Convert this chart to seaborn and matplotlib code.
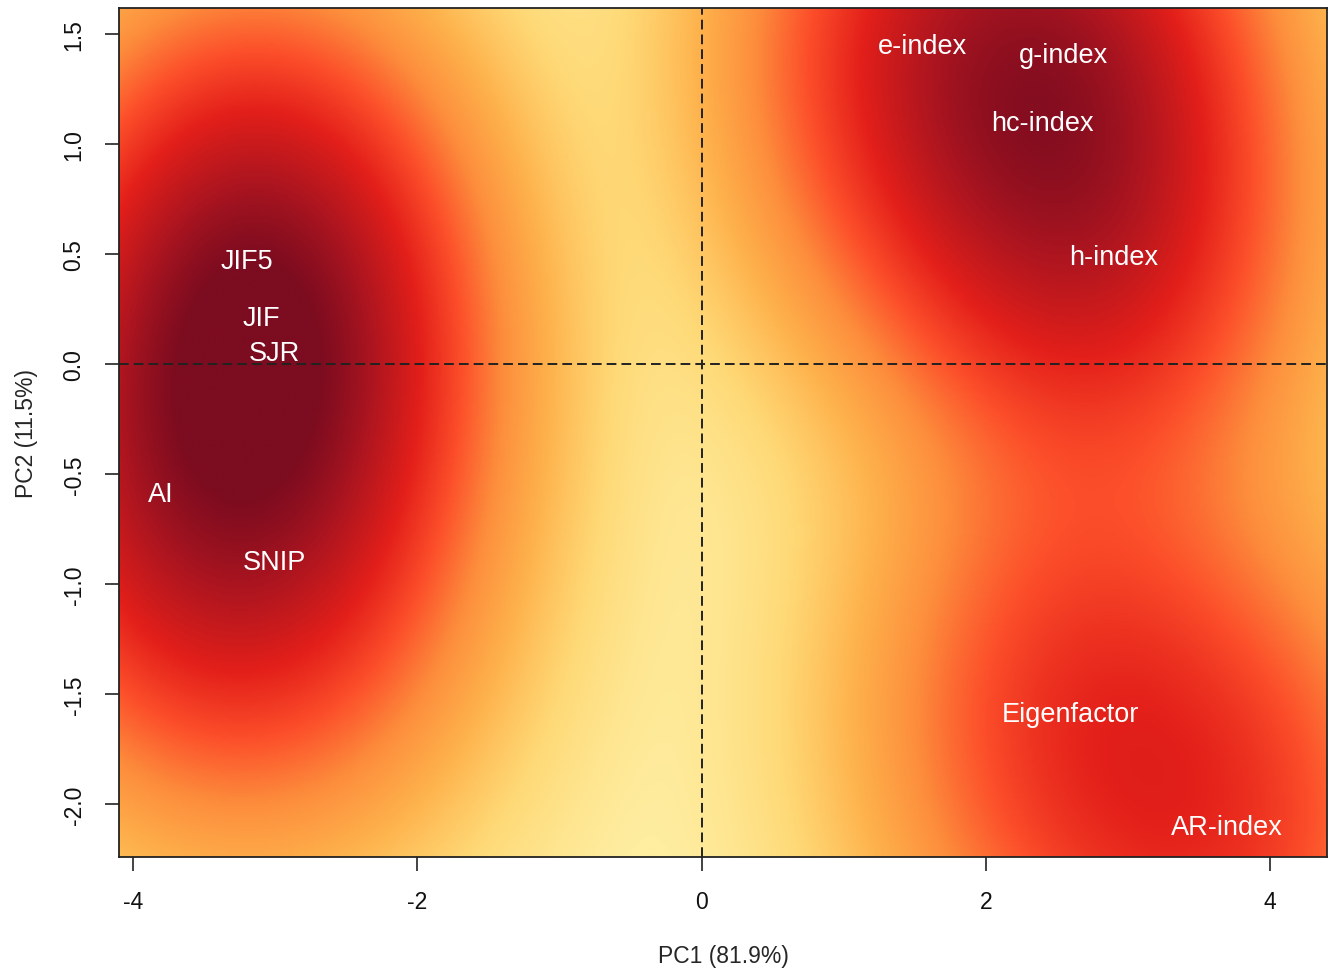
import numpy as np
import pandas as pd
import matplotlib
matplotlib.use("Agg")
import matplotlib.pyplot as plt
from matplotlib.colors import LinearSegmentedColormap
import seaborn as sns

# ---- data: PCA loadings (label positions) ----
labels = ["e-index", "g-index", "hc-index", "h-index", "JIF5", "JIF", "SJR",
          "AI", "SNIP", "Eigenfactor", "AR-index"]
pc1 = [1.555, 2.547, 2.40, 2.90, -3.20, -3.10, -3.005, -3.807, -3.005, 2.597, 3.695]
pc2 = [1.445, 1.405, 1.095, 0.486, 0.468, 0.209, 0.050, -0.591, -0.900, -1.590, -2.105]
xlab = "PC1 (81.9%)"
ylab = "PC2 (11.5%)"
xticks = [-4, -2, 0, 2, 4]
yticks = [-2.0, -1.5, -1.0, -0.5, 0.0, 0.5, 1.0, 1.5]
palette = ["#FFEDA0", "#FED976", "#FEB24C", "#FD8D3C", "#FC4E2A",
           "#E31F1A", "#B2161F", "#7C0C20"]

df = pd.DataFrame({"label": labels, "PC1": pc1, "PC2": pc2})

sns.set_theme(style="ticks")
plt.rcParams["font.family"] = ["Liberation Sans", "DejaVu Sans"]

fig = plt.figure(figsize=(13.32, 9.70), dpi=100)
ax = fig.add_axes([0.0893, 0.1155, 0.9069, 0.8752])

xlim = (-4.10, 4.40)
ylim = (-2.241, 1.618)

# smoothed density of the points (smoothScatter-like)
gx = np.linspace(*xlim, 500)
gy = np.linspace(*ylim, 400)
X, Y = np.meshgrid(gx, gy)
sx, sy = 0.85, 0.74
D = np.zeros_like(X)
for xi, yi in zip(df.PC1, df.PC2):
    D += np.exp(-((X - xi) ** 2 / (2 * sx ** 2) + (Y - yi) ** 2 / (2 * sy ** 2)))
T = D ** 0.4
T = T / T.max()
cmap = LinearSegmentedColormap.from_list("ylorrd_r", palette)
ax.imshow(T, extent=(*xlim, *ylim), origin="lower", aspect="auto",
          cmap=cmap, vmin=0.06, vmax=0.94, interpolation="bilinear")

ax.axvline(0, color="#222222", lw=1.4, dashes=(5, 2.6))
ax.axhline(0, color="#222222", lw=1.4, dashes=(5, 2.6))

for _, r in df.iterrows():
    ax.text(r.PC1, r.PC2, r.label, color="white", fontsize=19.5,
            ha="center", va="center")

ax.set_xlim(*xlim)
ax.set_ylim(*ylim)
ax.set_xticks(xticks)
ax.set_xticklabels([f"{t:d}" for t in xticks])
ax.set_yticks(yticks)
ax.set_yticklabels([f"{t:.1f}" for t in yticks], rotation=90, va="center")
ax.tick_params(axis="both", labelsize=16.5, length=10, width=1.2, pad=14,
               color="#222222", labelcolor="#111111")
for s in ax.spines.values():
    s.set_linewidth(1.3)
    s.set_color("#222222")
ax.set_xlabel(xlab, fontsize=16.5, labelpad=22)
ax.set_ylabel(ylab, fontsize=16.5, labelpad=18)

fig.savefig("out.png", dpi=100)
